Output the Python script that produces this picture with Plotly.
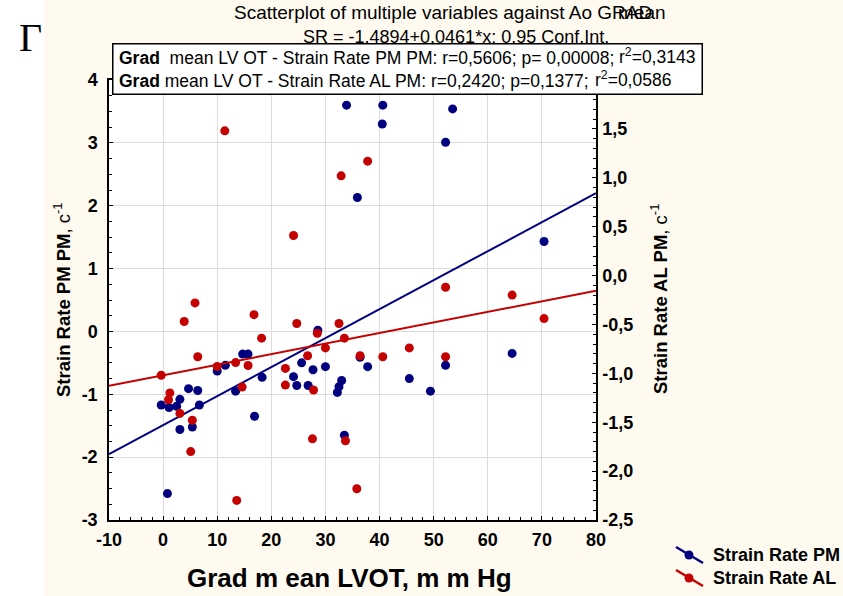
import plotly.graph_objects as go

# ---------------- data ----------------
pm_x = [33.9, 40.6, 40.5, 53.5, 52.2, 35.9, 70.4, 28.6, 25.6, 10.0, 11.5, 14.7, 15.7,
        18.3, 24.1, 24.7, 26.8, 27.7, 30.0, 33.0, 32.5, 32.2, 13.4, 4.7, 6.4, 3.1,
        -0.35, 1.1, 2.5, 6.7, 3.1, 5.4, 16.9, 33.5, 0.8, 36.4, 37.8, 52.2, 64.5, 45.5, 49.4]
pm_y = [3.60, 3.60, 3.30, 3.54, 3.01, 2.13, 1.43, 0.02, -0.50, -0.63, -0.54, -0.36, -0.36,
        -0.73, -0.72, -0.86, -0.86, -0.61, -0.56, -0.78, -0.88, -0.97, -0.95, -0.91, -0.94, -1.08,
        -1.17, -1.21, -1.19, -1.17, -1.56, -1.52, -1.35, -1.65, -2.58, -0.41, -0.56, -0.54, -0.35, -0.75, -0.95]

al_x = [11.4, 32.9, 37.8, 24.1, 5.9, 3.9, 16.8, 24.7, 28.5, 32.5, 18.2, 33.5, 52.2, 64.5,
        70.4, 6.4, 30.0, 26.7, -0.35, 10.0, 13.4, 15.7, 22.6, 22.6, 27.8, 14.6, 1.25, 1.0,
        3.1, 5.4, 5.1, 27.6, 33.7, 13.6, 36.4, 40.6, 45.5, 52.2, 35.8]
al_y = [1.48, 1.02, 1.17, 0.41, -0.28, -0.47, -0.40, -0.49, -0.59, -0.49, -0.64, -0.64, -0.12, -0.20,
        -0.44, -0.83, -0.74, -0.82, -1.02, -0.93, -0.89, -0.92, -0.95, -1.12, -1.17, -1.14, -1.20, -1.27,
        -1.41, -1.48, -1.80, -1.67, -1.69, -2.30, -0.82, -0.83, -0.74, -0.83, -2.18]

# regression lines (intercept, slope) and x-span
pm_fit = [-1.4894, 0.0461]
al_fit = [-1.02, 0.0108]
fit_x = [-10, 80]

x_ticks = [-10, 0, 10, 20, 30, 40, 50, 60, 70, 80]
x_ticktext = ["-10", "0", "10", "20", "30", "40", "50", "60", "70", "80"]
y_ticks = [-3, -2, -1, 0, 1, 2, 3, 4]
y_ticktext = ["-3", "-2", "-1", "0", "1", "2", "3", "4"]
y2_ticks = [-2.5, -2.0, -1.5, -1.0, -0.5, 0.0, 0.5, 1.0, 1.5]
y2_ticktext = ["-2,5", "-2,0", "-1,5", "-1,0", "-0,5", "0,0", "0,5", "1,0", "1,5"]

series_names = ["Strain Rate PM", "Strain Rate AL"]
title_main = "Scatterplot of multiple variables against Ao GRAD"
title_overlap = "mean"
title_sub = "SR = -1.4894+0.0461*x; 0.95 Conf.Int."
box_line1 = "<b>Grad</b>  mean LV OT - Strain Rate PM PM: r=0,5606; p= 0,00008;"
box_line1_r2 = "r<sup>2</sup>=0,3143"
box_line2 = "<b>Grad</b> mean LV OT - Strain Rate AL PM: r=0,2420; p=0,1377;"
box_line2_r2 = "r<sup>2</sup>=0,0586"
x_title = "<b>Grad m ean LVOT, m m Hg</b>"
y_title = "<b>Strain Rate PM PM</b>, c<sup>-1</sup>"
y2_title = "<b>Strain Rate AL PM</b>, c<sup>-1</sup>"

# ---------------- styling ----------------
BLUE = "#00007F"
RED = "#C40000"
CREAM = "#FFFAEF"
FONT = "Liberation Sans, Arial, sans-serif"

W, H = 843, 596
L, R, T, B = 109, 596, 80, 520


def px(x):
    return (x - L) / (R - L)


def py(y):
    return (B - y) / (B - T)


fig = go.Figure()

fig.add_trace(go.Scatter(x=fit_x, y=[pm_fit[0] + pm_fit[1] * v for v in fit_x], mode="lines",
                         line=dict(color=BLUE, width=2), showlegend=False, hoverinfo="skip"))
fig.add_trace(go.Scatter(x=fit_x, y=[al_fit[0] + al_fit[1] * v for v in fit_x], mode="lines",
                         line=dict(color=RED, width=2), yaxis="y2", showlegend=False, hoverinfo="skip"))
fig.add_trace(go.Scatter(x=pm_x, y=pm_y, mode="markers", name=series_names[0],
                         marker=dict(color=BLUE, size=9), showlegend=False))
fig.add_trace(go.Scatter(x=al_x, y=al_y, mode="markers", name=series_names[1], yaxis="y2",
                         marker=dict(color=RED, size=9), showlegend=False))

tickfont = dict(family=FONT, size=18, color="black", weight="bold")

fig.update_layout(
    width=W, height=H,
    margin=dict(l=L, r=W - R, t=T, b=H - B, pad=0),
    paper_bgcolor=CREAM, plot_bgcolor="white",
    showlegend=False,
    xaxis=dict(range=[-10, 80], tickvals=x_ticks, ticktext=x_ticktext, tickfont=tickfont,
               showgrid=True, gridcolor="#DCDCDC", gridwidth=1, zeroline=False,
               showline=True, linecolor="black", linewidth=1.5, mirror=True,
               ticks="inside", ticklen=4, tickcolor="black", ticklabelstandoff=3,
               minor=dict(dtick=2, ticks="inside", ticklen=3, tickcolor="black", showgrid=False)),
    yaxis=dict(range=[-3, 4], tickvals=y_ticks, ticktext=y_ticktext, tickfont=tickfont,
               showgrid=True, gridcolor="#DCDCDC", gridwidth=1, zeroline=False,
               showline=True, linecolor="black", linewidth=1.5,
               ticks="inside", ticklen=4, tickcolor="black", ticklabelstandoff=6,
               minor=dict(dtick=0.25, ticks="inside", ticklen=3, tickcolor="black", showgrid=False)),
    yaxis2=dict(range=[-2.5, 2.0], overlaying="y", side="right", tickvals=y2_ticks, ticktext=y2_ticktext,
                tickfont=tickfont, showgrid=False, zeroline=False,
                showline=True, linecolor="black", linewidth=1.5,
                ticks="inside", ticklen=4, tickcolor="black", ticklabelstandoff=1,
                minor=dict(dtick=0.1, ticks="inside", ticklen=3, tickcolor="black", showgrid=False)),
)

shapes = []
# white strip at the far left
shapes.append(dict(type="rect", xref="paper", yref="paper", x0=px(0), x1=px(44), y0=py(H), y1=py(0),
                   fillcolor="white", line=dict(width=0), layer="below"))
# custom legend symbols
for i, col in enumerate([BLUE, RED]):
    cy = 555 + 23 * i
    shapes.append(dict(type="line", xref="paper", yref="paper", x0=px(676), y0=py(cy - 8),
                       x1=px(703), y1=py(cy + 8), line=dict(color=col, width=2.5)))
    shapes.append(dict(type="circle", xref="paper", yref="paper", x0=px(684.5), x1=px(693.5),
                       y0=py(cy + 4.5), y1=py(cy - 4.5), fillcolor=col, line=dict(color=col, width=0)))
fig.update_layout(shapes=shapes)

ann = []


def A(text, x, y, size, xanchor="center", yanchor="middle", angle=0, family=FONT, **kw):
    ann.append(dict(text=text, x=px(x), y=py(y), xref="paper", yref="paper", showarrow=False,
                    xanchor=xanchor, yanchor=yanchor, textangle=angle,
                    font=dict(family=family, size=size, color="black"), **kw))


A("Г", 30, 37, 40, family="Liberation Serif, Times New Roman, serif")
A(title_main, 654, 13, 19, xanchor="right")
A(title_overlap, 668, 13, 19, xanchor="right")
A(title_sub, 456, 37, 18)
# statistics box (an annotation so it covers the subtitle)
ann.append(dict(text=" ", x=px(407), y=py(68.5), xref="paper", yref="paper", showarrow=False,
                xanchor="center", yanchor="middle", width=588, height=49, bgcolor="white",
                bordercolor="black", borderwidth=1.5, borderpad=0))
A(box_line1, 117, 58, 17.5, xanchor="left")
A(box_line1_r2, 697, 56, 17.5, xanchor="right")
A(box_line2, 117, 81, 17.5, xanchor="left")
A(box_line2_r2, 673, 79, 17.5, xanchor="right")
# axis titles
A(x_title, 349, 578, 26)
A(y_title, 62, 300, 18.5, angle=-90)
A(y2_title, 659, 299, 18.5, angle=-90)
# legend labels
A("<b>" + series_names[0] + "</b>", 711, 555, 18, xanchor="left")
A("<b>" + series_names[1] + "</b>", 711, 578, 18, xanchor="left")
fig.update_layout(annotations=ann)

fig.write_html("out.html")
